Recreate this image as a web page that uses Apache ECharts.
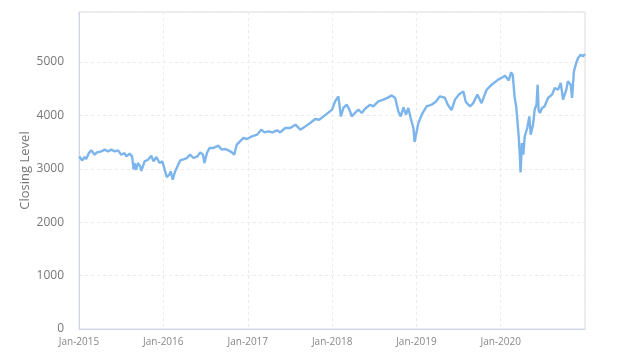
<!DOCTYPE html>
<html>
<head>
<meta charset="utf-8">
<script src="https://cdn.jsdelivr.net/npm/echarts@6/dist/echarts.min.js"></script>
<style>
html,body{margin:0;padding:0;background:#fff;}
#chart{width:624px;height:362px;}
</style>
</head>
<body>
<div id="chart"></div>
<script>
var dates = [
'2015-01-02','2015-01-09','2015-01-15','2015-01-25','2015-02-01','2015-02-13','2015-02-23','2015-03-10','2015-03-20','2015-04-08',
'2015-04-22','2015-05-07','2015-05-21','2015-06-04','2015-06-19','2015-07-03','2015-07-17','2015-07-25','2015-08-08','2015-08-19',
'2015-08-25','2015-08-29','2015-09-05','2015-09-13','2015-09-23','2015-09-28','2015-10-12','2015-10-27','2015-11-10','2015-11-20',
'2015-12-02','2015-12-16','2015-12-28',
'2016-01-06','2016-01-09','2016-01-16','2016-01-27','2016-02-02','2016-02-11','2016-02-21','2016-03-02','2016-03-14','2016-03-31',
'2016-04-12','2016-04-26','2016-05-11','2016-05-28','2016-06-09','2016-06-21','2016-06-27','2016-07-08','2016-07-19','2016-08-05',
'2016-08-27','2016-09-10','2016-09-25','2016-10-09','2016-10-24','2016-11-03','2016-11-14','2016-11-28','2016-12-13','2016-12-27',
'2017-01-19','2017-02-10','2017-02-28','2017-03-14','2017-04-01','2017-04-18','2017-05-07','2017-05-21','2017-06-12','2017-07-04',
'2017-07-26','2017-08-16','2017-09-07','2017-09-28','2017-10-20','2017-11-06','2017-11-25','2017-12-17',
'2018-01-01','2018-01-14','2018-01-28','2018-02-08','2018-02-19','2018-03-05','2018-03-17','2018-03-27','2018-04-10','2018-04-25',
'2018-05-09','2018-05-24','2018-06-14','2018-06-28','2018-07-20','2018-08-11','2018-09-02','2018-09-16','2018-10-01','2018-10-15',
'2018-10-25','2018-11-06','2018-11-17','2018-11-27','2018-12-07','2018-12-19','2018-12-24',
'2019-01-09','2019-01-24','2019-02-14','2019-03-08','2019-03-27','2019-04-12','2019-05-04','2019-05-17','2019-06-02','2019-06-17',
'2019-07-04','2019-07-23','2019-08-03','2019-08-21','2019-09-04','2019-09-22','2019-10-10','2019-11-01','2019-11-23','2019-12-21',
'2020-01-03','2020-01-11','2020-01-20','2020-01-28','2020-02-05','2020-02-15','2020-02-22','2020-03-01','2020-03-08','2020-03-13',
'2020-03-19','2020-03-24','2020-03-27','2020-04-02','2020-04-08','2020-04-14','2020-04-25','2020-05-04','2020-05-10','2020-05-20',
'2020-05-27','2020-06-04','2020-06-09','2020-06-13','2020-06-19','2020-06-28','2020-07-09','2020-07-24','2020-08-10','2020-08-22',
'2020-09-05','2020-09-17','2020-09-27','2020-10-11','2020-10-18','2020-10-30','2020-11-05','2020-11-13','2020-11-23','2020-12-01',
'2020-12-12','2020-12-22','2020-12-31'
];
var closing = [
3230,3200,3157,3221,3183,3296,3345,3264,3307,3326,
3358,3326,3358,3326,3345,3264,3296,3232,3283,3232,
2990,3109,2980,3109,3045,2960,3139,3170,3245,3139,
3221,3109,3139,
3000,2951,2846,2890,2951,2796,2951,3045,3157,3183,
3202,3264,3202,3232,3307,3264,3109,3296,3390,3390,
3433,3358,3371,3345,3307,3264,3451,3513,3577,3558,
3607,3639,3732,3682,3701,3682,3720,3682,3764,3764,
3826,3732,3794,3858,3933,3919,3981,4056,
4107,4262,4356,3981,4139,4200,4107,3981,4045,4107,
4045,4125,4200,4169,4262,4294,4337,4375,4326,4075,
3981,4150,4013,4139,3951,3764,3502,
3850,4013,4169,4200,4260,4356,4330,4200,4100,4295,
4390,4450,4250,4170,4230,4390,4230,4480,4575,4669,
4700,4720,4743,4780,4655,4806,4762,4356,4169,3920,
3600,3232,2933,3483,3264,3607,3764,3981,3639,3826,
4107,4200,4575,4100,4045,4139,4169,4326,4388,4513,
4481,4607,4294,4481,4638,4575,4326,4825,4981,5075,
5137,5105,5150
];
var yTicks = [0,1000,2000,3000,4000,5000];

var chart = echarts.init(document.getElementById('chart'));
var seriesData = dates.map(function(d,i){ return [d, closing[i]]; });
chart.setOption({
  animation:false,
  grid:{left:79,right:39,top:12,bottom:33,show:true,borderColor:'#dcdcdc',borderWidth:1},
  xAxis:{
    type:'time',
    min:'2015-01-01',max:'2020-12-31',
    minInterval:365*24*3600*1000, maxInterval:366*24*3600*1000,
    axisLine:{show:true,lineStyle:{color:'#ccd6eb'}},
    axisTick:{show:false},
    axisLabel:{color:'#888',fontSize:10,fontFamily:'Open Sans',margin:8,formatter:'{MMM}-{yyyy}',hideOverlap:false},
    splitLine:{show:true,lineStyle:{color:'#ebebeb',type:[3,3]}}
  },
  yAxis:{
    type:'value',min:0,max:5936,interval:1000,
    name:'Closing Level',nameLocation:'middle',nameGap:47,nameMoveOverlap:false,
    nameTextStyle:{color:'#777',fontSize:13,fontFamily:'Open Sans'},
    axisLine:{show:true,lineStyle:{color:'#ccd6eb'}},
    axisTick:{show:false},
    axisLabel:{color:'#777',fontSize:12,fontFamily:'Open Sans',margin:15,showMaxLabel:false,
      formatter:function(v){ return yTicks.indexOf(v)>=0 ? String(v) : ''; }},
    splitLine:{show:true,lineStyle:{color:'#ebebeb',type:[3,3]}}
  },
  series:[{
    type:'line',data:seriesData,showSymbol:false,
    lineStyle:{color:'#7cb5ec',width:2.4},
    itemStyle:{color:'#7cb5ec'}
  }]
});
</script>
</body>
</html>
